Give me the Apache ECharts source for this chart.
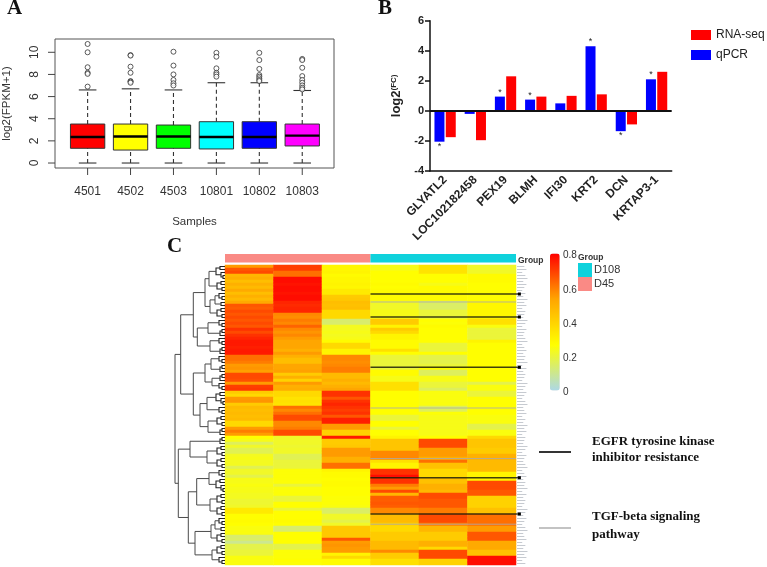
<!DOCTYPE html>
<html><head><meta charset="utf-8">
<style>html,body{margin:0;padding:0;background:#fff}#c{width:767px;height:567px}</style>
<script src="https://cdn.jsdelivr.net/npm/echarts@6/dist/echarts.min.js"></script>
</head><body><div id="c"></div>
<script>
// Panel A
const samples = ['4501','4502','4503','10801','10802','10803'];
const boxStats = [ // min, Q1, median, Q3, upper whisker
  [0,1.33,2.35,3.52,6.6],
  [0,1.17,2.4,3.52,6.7],
  [0,1.33,2.4,3.43,6.6],
  [0,1.27,2.35,3.73,7.25],
  [0,1.33,2.35,3.73,7.25],
  [0,1.54,2.47,3.52,6.55]
];
const outliers = [
  [10.75,10,8.65,8.15,8.05,6.9],
  [9.75,9.7,8.7,8.15,7.4,7.35,7.25],
  [10.05,8.8,8,7.5,7.2,7],
  [9.95,9.6,8.55,8.15,8,7.8],
  [9.95,9.3,8.5,7.95,7.8,7.65,7.5,7.4],
  [9.4,9.3,8.6,7.85,7.5,7.25,7,6.8,6.65]
];
const boxColors = ['#ff0000','#ffff00','#00ff00','#00ffff','#0000ff','#ff00ff'];
const xTicksA = [1,2,3,4,5,6];
const yTicksA = [0,2,4,6,8,10];

// Panel B
const genes = ['GLYATL2','LOC102182458','PEX19','BLMH','IFI30','KRT2','DCN','KRTAP3-1'];
const qpcr = [-2.05,-0.2,0.95,0.75,0.5,4.3,-1.35,2.1];
const rnaseq = [-1.75,-1.95,2.3,0.95,1.0,1.1,-0.9,2.6];
const qpcrSignificant = [1,0,1,1,0,1,1,1];

// Panel C heatmap, one array per sample column, rows top to bottom
const colD45a = [.55,.66,.68,.48,.5,.46,.5,.47,.52,.46,
 .5,.47,.52,.66,.65,.68,.66,.68,.66,.68,
 .66,.72,.68,.72,.74,.76,.76,.75,.76,.76,
 .62,.62,.6,.55,.56,.54,.68,.68,.67,.55,
 .7,.71,.42,.38,.55,.56,.42,.47,.46,.47,
 .46,.47,.38,.38,.55,.6,.55,.27,.24,.16,
 .22,.17,.17,.23,.24,.23,.23,.17,.22,.22,
 .18,.24,.24,.25,.24,.24,.23,.23,.21,.21,
 .22,.33,.33,.27,.27,.28,.27,.25,.25,.25,
 .14,.15,.1,.18,.18,.2,.2,.25,.25,.25];
const colD45b = [.7,.7,.62,.62,.78,.78,.77,.78,.78,.77,
 .78,.78,.74,.73,.74,.74,.58,.57,.6,.58,
 .64,.58,.56,.58,.55,.53,.53,.53,.5,.55,
 .5,.46,.46,.53,.53,.54,.42,.5,.4,.55,
 .5,.51,.38,.38,.35,.36,.35,.62,.58,.62,
 .68,.68,.58,.58,.6,.68,.68,.22,.22,.22,
 .21,.22,.22,.17,.17,.2,.2,.2,.26,.26,
 .26,.26,.26,.2,.25,.26,.26,.2,.2,.27,
 .27,.2,.27,.27,.27,.28,.27,.14,.14,.27,
 .27,.27,.27,.18,.18,.26,.26,.26,.27,.26];
const colD45c = [.29,.29,.3,.28,.29,.29,.3,.29,.33,.33,
 .42,.43,.46,.45,.46,.38,.38,.38,.14,.14,
 .23,.23,.24,.23,.24,.28,.38,.38,.3,.3,
 .58,.58,.57,.58,.6,.6,.47,.47,.5,.47,
 .5,.53,.72,.72,.66,.72,.74,.72,.7,.72,
 .66,.75,.75,.55,.55,.4,.4,.76,.42,.42,
 .43,.55,.55,.55,.5,.5,.62,.62,.3,.28,
 .28,.27,.28,.28,.27,.27,.27,.26,.26,.26,
 .25,.15,.15,.22,.22,.18,.22,.43,.43,.43,
 .43,.66,.55,.56,.55,.55,.3,.38,.28,.28];
const colD108a = [.24,.24,.27,.27,.27,.27,.28,.27,.28,.28,
 .28,.28,.22,.22,.22,.24,.24,.24,.42,.42,
 .3,.42,.38,.3,.3,.28,.28,.28,.36,.27,
 .2,.2,.2,.2,.2,.28,.28,.24,.24,.36,
 .36,.36,.27,.27,.27,.27,.27,.27,.27,.27,
 .2,.2,.27,.27,.2,.27,.27,.3,.44,.44,
 .44,.44,.58,.58,.58,.36,.3,.3,.72,.72,
 .78,.72,.72,.6,.55,.68,.48,.65,.65,.66,
 .65,.58,.58,.47,.47,.47,.4,.38,.38,.42,
 .42,.42,.47,.47,.47,.58,.42,.42,.36,.36];
const colD108b = [.35,.35,.35,.27,.27,.27,.24,.28,.28,.28,
 .28,.28,.15,.15,.15,.2,.2,.2,.27,.26,
 .28,.27,.27,.27,.27,.27,.2,.2,.2,.27,
 .18,.18,.18,.2,.27,.16,.16,.24,.24,.2,
 .2,.16,.25,.25,.25,.25,.25,.16,.16,.26,
 .24,.24,.24,.24,.24,.24,.24,.27,.68,.68,
 .68,.55,.55,.55,.5,.62,.45,.45,.38,.38,
 .38,.45,.45,.5,.5,.48,.68,.68,.66,.66,
 .66,.6,.6,.68,.68,.68,.6,.48,.48,.42,
 .42,.42,.5,.5,.38,.68,.68,.68,.4,.4];
const colD108c = [.22,.22,.22,.28,.28,.28,.27,.27,.27,.27,
 .27,.27,.29,.29,.29,.29,.29,.29,.36,.36,
 .25,.2,.2,.2,.2,.3,.27,.27,.27,.27,
 .27,.27,.27,.27,.27,.27,.27,.27,.27,.18,
 .25,.25,.2,.2,.27,.27,.27,.27,.27,.27,
 .25,.25,.25,.18,.18,.25,.25,.38,.44,.44,
 .44,.42,.42,.5,.5,.47,.47,.47,.47,.3,
 .3,.3,.68,.68,.68,.66,.66,.4,.4,.4,
 .4,.45,.45,.62,.62,.62,.62,.55,.55,.66,
 .66,.66,.52,.52,.52,.45,.45,.78,.78,.78];
const heatColumns = [colD45a,colD45b,colD45c,colD108a,colD108b,colD108c];
const columnNames = ['D45-1','D45-2','D45-3','D108-1','D108-2','D108-3'];
const egfrRows = [9.67,17.33,34.1,70.9,83.0];
const tgfbRows = [12.33,47.67,64.53,86.4];
const groupNames = ['D45','D108'];
const groupSizes = [3,3];
const rowNameLengths = [7,9,5,8,10,6,9,7,5,8,6,10,7,9,5,8,7,6,10,8,
 5,9,7,6,8,10,5,7,9,6,8,7,10,5,9,6,8,7,5,10,
 8,6,9,7,5,8,10,6,7,9,5,8,6,10,7,9,5,8,7,6,
 10,8,5,9,7,6,8,10,5,7,9,6,8,7,10,5,9,6,8,7,
 5,10,8,6,9,7,5,8,10,6,7,9,5,8,6,10,7,9,5,8];

// Dendrogram as nested merges [height, upper, lower]; 0 is a leaf
const S2 = [3,0,0];
const S3a = [6,0,S2];
const S3b = [5,S2,0];
const S4a = [8,[4,0,0],S2];
const S5a = [9,[5,0,0],[4,0,[2,0,0]]];
const S5b = [10,S3a,[4,0,0]];
const clusterA = [20,[16,S5a,S4a],[15,S5b,S4a]];
const clusterB = [27.7,[17,S3a,S3b],[15,S3a,S3b]];
const clusterC = [20,[14,S3a,S3b],[13,S3b,S3a]];
const clusterD = [25,[18,S5a,S3a],[17,S4a,S3b]];
const clusterE = [35,S3b,[18,S4a,S4a]];
const clusterF = [28.3,[16,S3a,S5a],[15,S4a,S4a]];
const clusterG = [30,[14,S5b,S4a],[13,S4a,S3a]];
const dendrogram = [50,[44.3,[31.7,clusterA,clusterB],[31.7,clusterC,clusterD]],
                       [46.7,clusterE,[36.7,clusterF,clusterG]]];

const SANS = '"Liberation Sans", Arial, sans-serif';
const SERIF = '"Liberation Serif", "Times New Roman", serif';

// flatten the tree into brackets
const brackets = [];
let leafCursor = 0;
function walk(n){
  if(n===0){ const y = leafCursor+.5; leafCursor++; return {y:y,h:0}; }
  const a = walk(n[1]), b = walk(n[2]);
  brackets.push([n[0],a.y,b.y,a.h,b.h]);
  return {y:(a.y+b.y)/2,h:n[0]};
}
walk(dendrogram);

const heatData = [];
heatColumns.forEach((col,c)=>col.forEach((v,r)=>heatData.push([c,r,v])));
const rowIds = colD45a.map((_,i)=>String(i));
const outlierData = [];
outliers.forEach((l,i)=>l.forEach(v=>outlierData.push([i+1,v])));
const boxData = boxStats.map((s,i)=>[i+1].concat(s));
const tickDataA = xTicksA.map(v=>[v,-.45,0]).concat(yTicksA.map(v=>[.24,v,1]));

const chart = echarts.init(document.getElementById('c'),null,{renderer:'canvas'});
function starred(vals,flags){
  return vals.map((v,i)=>flags[i]?{value:v,label:{show:true,position:v<0?'bottom':'top',distance:0,formatter:'*',fontSize:9,color:'#222',fontFamily:SANS}}:v);
}
const seriesList = [
    {name:'box',type:'custom',xAxisIndex:0,yAxisIndex:0,data:boxData,silent:true,
     encode:{x:0,y:[1,2,3,4,5]},
     renderItem(params,api){
       const p=api.value(0), hw=.4, cw=.205;
       const P=(x,y)=>api.coord([x,y]);
       const lo=api.value(1),q1=api.value(2),md=api.value(3),q3=api.value(4),hi=api.value(5);
       const line=(a,b,st)=>({type:'line',shape:{x1:a[0],y1:a[1],x2:b[0],y2:b[1]},style:Object.assign({stroke:'#333',lineWidth:1.1},st||{})});
       const tl=P(p-hw,q3),br=P(p+hw,q1);
       return {type:'group',children:[
         line(P(p,q3),P(p,hi),{lineDash:[4,3]}),
         line(P(p,lo),P(p,q1),{lineDash:[4,3]}),
         line(P(p-cw,hi),P(p+cw,hi)),
         line(P(p-cw,lo),P(p+cw,lo)),
         {type:'rect',shape:{x:tl[0],y:tl[1],width:br[0]-tl[0],height:br[1]-tl[1]},style:{fill:boxColors[p-1],stroke:'#333',lineWidth:1}},
         line(P(p-hw,md),P(p+hw,md),{stroke:'#000',lineWidth:2.4})
       ]};
     }},
    {name:'ticksA',type:'custom',xAxisIndex:0,yAxisIndex:0,data:tickDataA,silent:true,clip:false,
     encode:{x:0,y:1},
     renderItem(params,api){
       const a=api.coord([api.value(0),api.value(1)]);
       const horizontal=api.value(2)===1;
       return {type:'line',shape:{x1:a[0],y1:a[1],x2:horizontal?a[0]-7:a[0],y2:horizontal?a[1]:a[1]+7},style:{stroke:'#444',lineWidth:1}};
     }},
    {name:'outliers',type:'scatter',xAxisIndex:0,yAxisIndex:0,data:outlierData,symbol:'circle',symbolSize:5,silent:true,
     itemStyle:{color:'#fff',borderColor:'#333',borderWidth:1}},
    {name:'qPCR',type:'bar',xAxisIndex:1,yAxisIndex:1,data:starred(qpcr,qpcrSignificant),barWidth:10,barGap:'13%',itemStyle:{color:'#0000ff'},
     markLine:{silent:true,symbol:'none',label:{show:false},data:[{yAxis:0}],lineStyle:{color:'#111',width:1.8,type:'solid'}}},
    {name:'RNA-seq',type:'bar',xAxisIndex:1,yAxisIndex:1,data:rnaseq,barWidth:10,itemStyle:{color:'#ff0000'}},
    {name:'D45',type:'bar',xAxisIndex:5,yAxisIndex:5,stack:'g',data:[groupSizes[0]],barWidth:'100%',itemStyle:{color:'#fa8a85'},silent:true},
    {name:'D108',type:'bar',xAxisIndex:5,yAxisIndex:5,stack:'g',data:[groupSizes[1]],barWidth:'100%',itemStyle:{color:'#0fd2dc'},silent:true},
    {name:'heat',type:'heatmap',xAxisIndex:2,yAxisIndex:2,data:heatData,itemStyle:{borderWidth:0},silent:true,progressive:0},
    {name:'EGFR',type:'custom',xAxisIndex:3,yAxisIndex:3,data:egfrRows.map(r=>[r]),silent:true,clip:false,z:5,
     encode:{y:0},
     renderItem(params,api){
       const r=api.value(0),a=api.coord([3,r]),b=api.coord([6.07,r]);
       return {type:'group',children:[
         {type:'line',shape:{x1:a[0],y1:a[1],x2:b[0],y2:b[1]},style:{stroke:'rgba(30,30,10,.85)',lineWidth:1.4}},
         {type:'rect',shape:{x:b[0]-1.5,y:b[1]-1.5,width:3,height:3},style:{fill:'#000'}}
       ]};
     }},
    {name:'TGFb',type:'custom',xAxisIndex:3,yAxisIndex:3,data:tgfbRows.map(r=>[r]),silent:true,clip:false,z:4,
     encode:{y:0},
     renderItem(params,api){
       const r=api.value(0),a=api.coord([3,r]),b=api.coord([6,r]);
       return {type:'line',shape:{x1:a[0],y1:a[1],x2:b[0],y2:b[1]},style:{stroke:'rgba(170,170,170,.85)',lineWidth:1}};
     }},
    {name:'rownames',type:'custom',xAxisIndex:3,yAxisIndex:3,data:rowNameLengths.map((l,i)=>[i+.5,l]),silent:true,clip:false,
     encode:{y:0},
     renderItem(params,api){
       const r=api.value(0),a=api.coord([6.02,r]);
       return {type:'line',shape:{x1:a[0],y1:a[1],x2:a[0]+api.value(1)*1.05,y2:a[1]},style:{stroke:'#b8bcc4',lineWidth:.8}};
     }},
    {name:'tree',type:'custom',xAxisIndex:4,yAxisIndex:4,data:brackets,silent:true,clip:false,
     encode:{x:[0,3,4],y:[1,2]},
     renderItem(params,api){
       const h=api.value(0),y1=api.value(1),y2=api.value(2),h1=api.value(3),h2=api.value(4);
       return {type:'polyline',shape:{points:[api.coord([h1,y1]),api.coord([h,y1]),api.coord([h,y2]),api.coord([h2,y2])]},
         style:{stroke:h<10?'#222':'#4a4a4a',lineWidth:h<10?1.1:1,fill:null}};
     }}
];
const opt = {
  animation:false,
  backgroundColor:'#fff',
  textStyle:{fontFamily:SANS},
  grid:[
    {left:54,top:39,width:280,height:129,show:true,borderColor:'#555',borderWidth:1,backgroundColor:'transparent'},
    {left:430,top:20.7,width:241.7,height:150.3},
    {left:225,top:265,width:291,height:300},
    {left:225,top:265,width:291,height:300},
    {left:172,top:265,width:53,height:300},
    {left:225,top:254,width:291,height:8.5},
    {left:558,top:255.5,width:2,height:137}
  ],
  xAxis:[
    {gridIndex:0,type:'value',position:'bottom',min:.24,max:6.74,splitLine:{show:false},axisLine:{show:false},axisTick:{show:false},
     axisLabel:{customValues:xTicksA,formatter:v=>samples[v-1],fontSize:12,color:'#333',margin:18,fontFamily:SANS,hideOverlap:false},
     name:'Samples',nameLocation:'middle',nameGap:48,nameTextStyle:{fontSize:11.5,color:'#333',fontFamily:SANS}},
    {gridIndex:1,type:'category',data:genes,
     axisLine:{onZero:false,lineStyle:{color:'#111',width:1.5}},axisTick:{length:5,alignWithLabel:true,lineStyle:{color:'#111',width:1.5}},
     axisLabel:{rotate:45,interval:0,fontSize:12,fontWeight:'bold',color:'#222',margin:7,fontFamily:SANS}},
    {gridIndex:2,type:'category',data:columnNames,show:false},
    {gridIndex:3,type:'value',min:0,max:6,show:false},
    {gridIndex:4,type:'value',min:0,max:53,inverse:true,show:false},
    {gridIndex:5,type:'value',min:0,max:6,show:false},
    {gridIndex:6,type:'value',min:0,max:1,show:false}
  ],
  yAxis:[
    {gridIndex:0,type:'value',position:'left',min:-.45,max:11.2,splitLine:{show:false},axisLine:{show:false},axisTick:{show:false},
     axisLabel:{customValues:yTicksA,rotate:90,fontSize:12,color:'#333',margin:14,fontFamily:SANS,showMinLabel:true,showMaxLabel:true},
     name:'log2(FPKM+1)',nameLocation:'middle',nameGap:42,nameTextStyle:{fontSize:11.5,color:'#333',fontFamily:SANS}},
    {gridIndex:1,type:'value',min:-4,max:6,interval:2,splitLine:{show:false},
     axisLine:{show:true,onZero:false,lineStyle:{color:'#111',width:1.5}},axisTick:{show:true,length:5,lineStyle:{color:'#111',width:1.5}},
     axisLabel:{fontSize:11,fontWeight:'bold',color:'#222',margin:6,fontFamily:SANS},
     name:'log2{s|(FC)}',nameLocation:'middle',nameGap:27,
     nameTextStyle:{fontSize:13,fontWeight:'bold',color:'#222',fontFamily:SANS,rich:{s:{fontSize:8,fontWeight:'bold',verticalAlign:'top',lineHeight:13,color:'#222',fontFamily:SANS}}}},
    {gridIndex:2,type:'category',data:rowIds,inverse:true,show:false},
    {gridIndex:3,type:'value',min:0,max:100,inverse:true,show:false},
    {gridIndex:4,type:'value',min:0,max:100,inverse:true,show:false},
    {gridIndex:5,type:'category',data:['Group'],show:false},
    {gridIndex:6,type:'value',min:0,max:.8,interval:.2,position:'right',splitLine:{show:false},axisLine:{show:false},axisTick:{show:false},
     axisLabel:{fontSize:10,color:'#333',margin:3,fontFamily:SANS,formatter:v=>String(+v.toFixed(1))}}
  ],
  legend:[
    {show:true,orient:'vertical',left:686,top:24,itemWidth:20,itemHeight:10,itemGap:8,data:[{name:'RNA-seq',icon:'rect'},{name:'qPCR',icon:'rect'}],
     textStyle:{fontSize:12,color:'#222',fontFamily:SANS},selectedMode:false},
    {show:true,orient:'vertical',left:578,top:258,padding:[5,5,5,0],itemWidth:14,itemHeight:14,itemGap:0,data:[{name:'D108',icon:'rect'},{name:'D45',icon:'rect'}],
     textStyle:{fontSize:11,color:'#333',fontFamily:SANS,padding:[0,0,0,-3]},selectedMode:false}
  ],
  visualMap:{type:'continuous',seriesIndex:seriesList.findIndex(s=>s.type==='heatmap'),min:0,max:.8,left:550,top:253.5,itemWidth:9.7,itemHeight:137,
    calculable:false,realtime:false,text:['',''],showLabel:false,hoverLink:false,padding:0,
    inRange:{color:['#add8e6','#ffff00','#ffa500','#ff0000']}},
  series:seriesList,
  graphic:[
    {type:'text',left:7,top:-2,style:{text:'A',font:'bold 21px '+SERIF,fill:'#111'}},
    {type:'text',left:378,top:-2,style:{text:'B',font:'bold 21px '+SERIF,fill:'#111'}},
    {type:'text',left:167,top:236,style:{text:'C',font:'bold 21px '+SERIF,fill:'#111'}},
    {type:'text',left:518,top:256,style:{text:'Group',font:'bold 8.5px '+SANS,fill:'#333'}},
    {type:'text',left:578,top:253,style:{text:'Group',font:'bold 8.5px '+SANS,fill:'#333'}},
    {type:'line',shape:{x1:539,y1:452,x2:571,y2:452},style:{stroke:'#000',lineWidth:1.6}},
    {type:'line',shape:{x1:539,y1:528,x2:571,y2:528},style:{stroke:'#aaa',lineWidth:1.4}},
    {type:'text',left:592,top:435,style:{text:'EGFR tyrosine kinase',font:'bold 13px '+SERIF,fill:'#111'}},
    {type:'text',left:592,top:451,style:{text:'inhibitor resistance',font:'bold 13px '+SERIF,fill:'#111'}},
    {type:'text',left:592,top:510,style:{text:'TGF-beta signaling',font:'bold 13px '+SERIF,fill:'#111'}},
    {type:'text',left:592,top:528,style:{text:'pathway',font:'bold 13px '+SERIF,fill:'#111'}}
  ]
};
chart.setOption(opt);
</script></body></html>
